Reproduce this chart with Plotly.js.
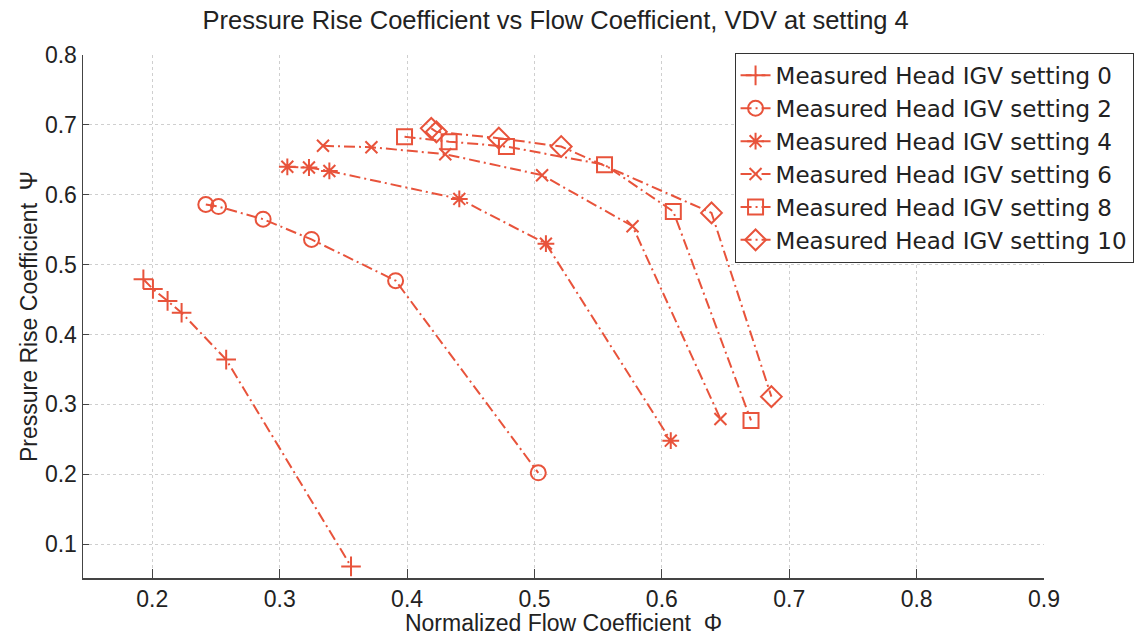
<!DOCTYPE html>
<html>
<head>
<meta charset="utf-8">
<script src="https://cdn.plot.ly/plotly-3.0.1.min.js"></script>
<style>html,body{margin:0;padding:0;background:#fff;}#chart{width:1134px;height:636px;}</style>
</head>
<body>
<div id="chart"></div>
<script>
// Data
var seriesNames = ["Measured Head IGV setting 0","Measured Head IGV setting 2","Measured Head IGV setting 4","Measured Head IGV setting 6","Measured Head IGV setting 8","Measured Head IGV setting 10"];
var phi0 = [0.193, 0.2005, 0.212, 0.223, 0.258, 0.356];
var psi0 = [0.479, 0.465, 0.448, 0.431, 0.364, 0.068];
var phi2 = [0.242, 0.252, 0.287, 0.325, 0.391, 0.503];
var psi2 = [0.586, 0.583, 0.565, 0.536, 0.477, 0.202];
var phi4 = [0.306, 0.323, 0.339, 0.441, 0.509, 0.607];
var psi4 = [0.640, 0.639, 0.634, 0.594, 0.530, 0.248];
var phi6 = [0.334, 0.372, 0.430, 0.506, 0.577, 0.646];
var psi6 = [0.670, 0.668, 0.658, 0.628, 0.555, 0.279];
var phi8 = [0.398, 0.433, 0.478, 0.555, 0.609, 0.670];
var psi8 = [0.683, 0.676, 0.669, 0.643, 0.576, 0.277];
var phi10 = [0.419, 0.423, 0.472, 0.521, 0.639, 0.686];
var psi10 = [0.695, 0.690, 0.681, 0.669, 0.574, 0.311];
var xTicks = [0.2, 0.3, 0.4, 0.5, 0.6, 0.7, 0.8, 0.9];
var yTicks = [0.1, 0.2, 0.3, 0.4, 0.5, 0.6, 0.7, 0.8];

var color = "#e8533b";
var xs = [phi0, phi2, phi4, phi6, phi8, phi10];
var ys = [psi0, psi2, psi4, psi6, psi8, psi10];
var symbols = ["cross-thin-open","circle-open","asterisk-open","x-thin-open","square-open","diamond-open"];
var sizes = [14, 15, 14, 12, 15, 16];

var traces = xs.map(function(x, i){
  return {
    x: x, y: ys[i], name: seriesNames[i], type: "scatter", mode: "lines+markers",
    line: {color: color, width: 2, dash: "11px,4px,2px,4px"},
    marker: {symbol: symbols[i], size: sizes[i], color: color, line: {color: color, width: 2}}
  };
});

var font = "Liberation Sans, Arial, Helvetica, sans-serif";
var layout = {
  width: 1134, height: 636,
  paper_bgcolor: "#fff", plot_bgcolor: "#fff",
  margin: {l: 83, r: 90, t: 55, b: 58, autoexpand: false},
  font: {family: font, color: "#222"},
  showlegend: true,
  title: {text: "Pressure Rise Coefficient vs Flow Coefficient, VDV at setting 4", font: {size: 25.5, family: font, color: "#222"},
          x: 0.49, xref: "container", xanchor: "center", y: 0.968, yref: "container", yanchor: "middle"},
  xaxis: {
    range: [0.1456, 0.9], tickvals: xTicks, ticktext: xTicks.map(function(v){return v.toFixed(1);}),
    ticks: "inside", ticklen: 9, tickcolor: "#444", tickwidth: 1,
    showline: true, linecolor: "#444", linewidth: 1.5,
    showgrid: true, gridcolor: "#cfcfcf", griddash: "dot", gridwidth: 1,
    zeroline: false, tickfont: {size: 23, color: "#222"}, automargin: false,
    title: {text: "Normalized Flow Coefficient  Φ", font: {size: 23, color: "#222"}, standoff: 6}
  },
  yaxis: {
    range: [0.0514, 0.8], tickvals: yTicks, ticktext: yTicks.map(function(v){return v.toFixed(1);}),
    ticks: "inside", ticklen: 6, tickcolor: "#444", tickwidth: 1,
    showline: true, linecolor: "#444", linewidth: 1.5,
    showgrid: true, gridcolor: "#cfcfcf", griddash: "dot", gridwidth: 1,
    zeroline: false, tickfont: {size: 23, color: "#222"}, automargin: false,
    title: {text: "Pressure Rise Coefficient  Ψ", font: {size: 23, color: "#222"}, standoff: 1}
  },
  legend: {
    x: 0.678, y: 1.004, xanchor: "left", yanchor: "top",
    bgcolor: "#fff", bordercolor: "#333", borderwidth: 1,
    font: {size: 23, color: "#222", family: "DejaVu Sans, Liberation Sans, sans-serif"}, tracegroupgap: 0, itemwidth: 30
  }
};

Plotly.newPlot("chart", traces, layout, {staticPlot: true});
</script>
</body>
</html>
